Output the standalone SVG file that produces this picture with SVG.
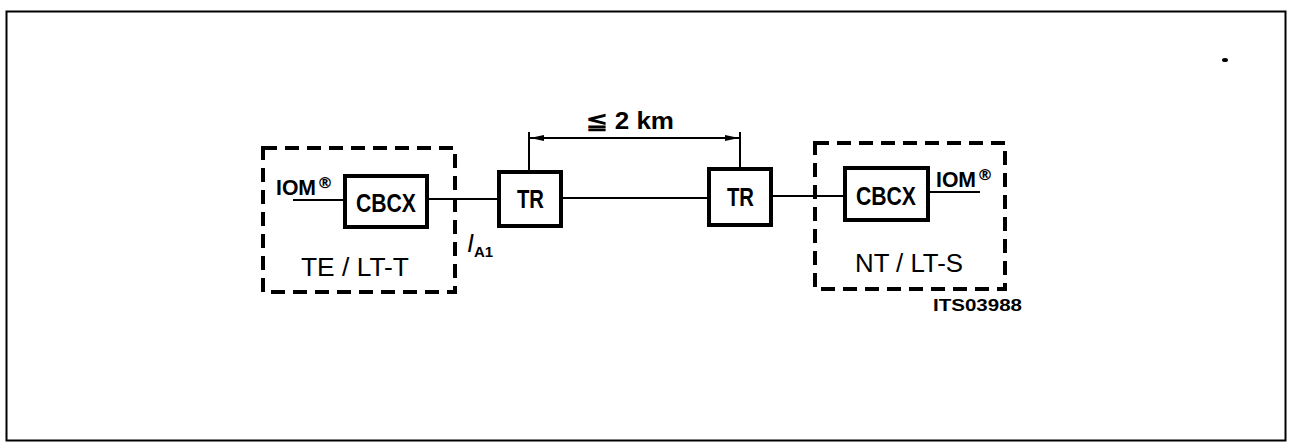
<svg xmlns="http://www.w3.org/2000/svg" width="1292" height="443" viewBox="0 0 1292 443">
<defs>
<style>
.frame{fill:none;stroke:#000;stroke-width:2}
.dash{fill:none;stroke:#000;stroke-width:4;stroke-dasharray:14 8}
.box{fill:#fff;stroke:#000;stroke-width:4}
.ln{fill:none;stroke:#000;stroke-width:2}
.t{font-family:"Liberation Sans",Arial,sans-serif;font-weight:bold;fill:#000}
.n{font-family:"Liberation Sans",Arial,sans-serif;fill:#000}
.r{font-family:"DejaVu Sans","Liberation Sans",sans-serif;font-weight:bold;font-size:16px;fill:#000}
</style>
<marker id="ah" viewBox="0 0 10 10" refX="10" refY="5" markerWidth="14" markerHeight="6" markerUnits="userSpaceOnUse" orient="auto-start-reverse" preserveAspectRatio="none">
<path d="M0,0 L10,5 L0,10 Z" fill="#000"/>
</marker>
</defs>
<rect class="frame" x="6.5" y="11.5" width="1279" height="429"/>
<ellipse cx="1225" cy="60" rx="3" ry="2" fill="#000"/>

<g id="connectors">
<line class="ln" x1="293" y1="200" x2="345" y2="200"/>
<line class="ln" x1="427" y1="199" x2="499" y2="199"/>
<line class="ln" x1="561" y1="198" x2="709" y2="198"/>
<line class="ln" x1="771" y1="196" x2="845" y2="196"/>
<line class="ln" x1="928" y1="192" x2="980" y2="192"/>
<line class="ln" x1="529" y1="132" x2="529" y2="172"/>
<line class="ln" x1="740" y1="132" x2="740" y2="169"/>
<line class="ln" x1="530" y1="138" x2="739" y2="138" marker-start="url(#ah)" marker-end="url(#ah)"/>
</g>

<g id="te-lt-t">
<rect class="dash" x="263" y="148" width="192" height="144"/>
<text class="n" x="301" y="276" font-size="25" textLength="108" lengthAdjust="spacingAndGlyphs">TE / LT-T</text>
</g>
<g id="cbcx-left">
<rect class="box" x="345" y="176" width="82" height="51"/>
<text class="t" x="356" y="212" font-size="25" textLength="60" lengthAdjust="spacingAndGlyphs">CBCX</text>
</g>
<g id="iom-left">
<text class="t" x="276" y="195" font-size="22" textLength="40" lengthAdjust="spacingAndGlyphs">IOM</text>
<text class="r" x="317" y="188">®</text>
</g>

<g id="tr-left">
<rect class="box" x="499" y="172" width="62" height="54"/>
<text class="t" x="517" y="208" font-size="25" textLength="27" lengthAdjust="spacingAndGlyphs">TR</text>
</g>
<g id="tr-right">
<rect class="box" x="709" y="169" width="62" height="56"/>
<text class="t" x="727" y="206" font-size="25" textLength="27" lengthAdjust="spacingAndGlyphs">TR</text>
</g>
<text class="t" x="586" y="129" font-size="23" textLength="88" lengthAdjust="spacingAndGlyphs">≦ 2 km</text>
<text class="n" x="467" y="252" font-size="25" font-style="italic" font-family="Liberation Serif,serif">I<tspan class="t" font-family="Liberation Sans,Arial,sans-serif" font-style="normal" font-weight="bold" font-size="15" dy="5">A1</tspan></text>

<g id="nt-lt-s">
<rect class="dash" x="815" y="143" width="190" height="146"/>
<text class="n" x="855" y="272" font-size="25" textLength="108" lengthAdjust="spacingAndGlyphs">NT / LT-S</text>
</g>
<g id="cbcx-right">
<rect class="box" x="845" y="168" width="83" height="52"/>
<text class="t" x="856" y="205" font-size="25" textLength="60" lengthAdjust="spacingAndGlyphs">CBCX</text>
</g>
<g id="iom-right">
<text class="t" x="936" y="187" font-size="22" textLength="40" lengthAdjust="spacingAndGlyphs">IOM</text>
<text class="r" x="977" y="180">®</text>
</g>
<text class="t" x="933" y="311" font-size="17" textLength="89" lengthAdjust="spacingAndGlyphs">ITS03988</text>
</svg>
